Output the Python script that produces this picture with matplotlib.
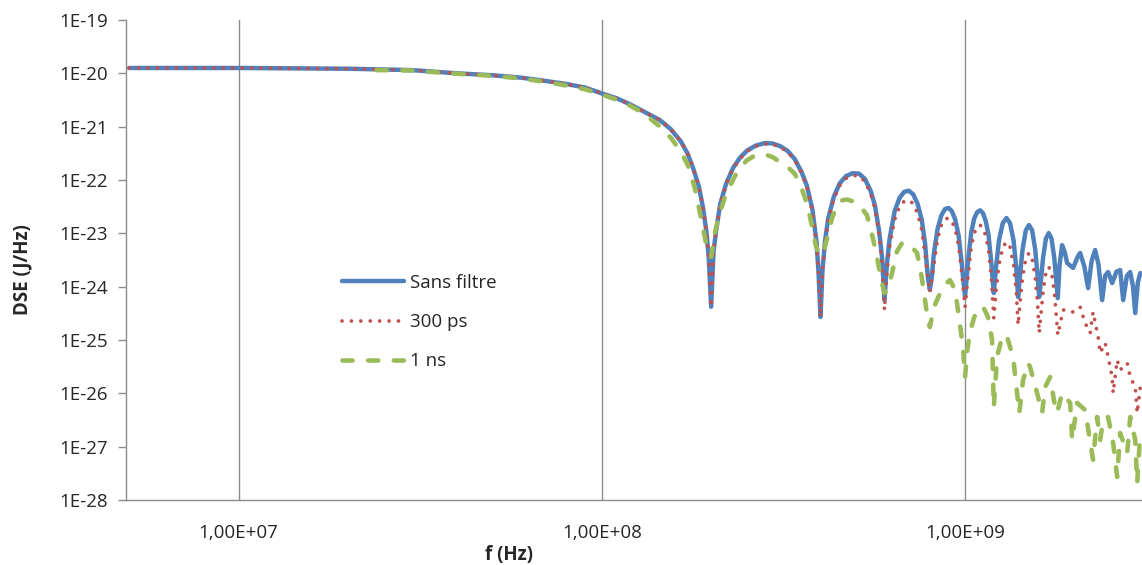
"""
DSE (densite spectrale d'energie) d'une impulsion, sans filtre et filtree.
"""
import numpy as np
import matplotlib
matplotlib.use("Agg")
import matplotlib.pyplot as plt
from matplotlib.ticker import FixedLocator, FixedFormatter, NullLocator

# (frequence en MHz, DSE en J/Hz)
sans_filtre = [
    (5, 1.26e-20), (10, 1.26e-20), (20, 1.22e-20), (30, 1.15e-20), (40, 1.0e-20),
    (50, 9.2e-21), (60, 8.3e-21), (70, 7.2e-21), (80, 6.3e-21), (90, 5.4e-21),
    (100, 4.2e-21), (110, 3.4e-21), (120, 2.6e-21), (130, 1.95e-21), (144.5, 1.33e-21),
    (155, 8.9e-22), (165, 5.3e-22), (172, 3.2e-22), (178, 1.75e-22), (185, 7.6e-23),
    (190, 3.0e-23), (194, 1.1e-23), (197, 3.5e-24), (200, 4.2e-25), (203, 4.5e-24),
    (207, 1.3e-23), (212, 3.6e-23), (220, 8.6e-23), (230, 1.7e-22), (240, 2.6e-22),
    (251, 3.55e-22), (265, 4.4e-22), (280, 4.9e-22), (295, 4.85e-22), (310, 4.3e-22),
    (325, 3.5e-22), (340, 2.45e-22), (355, 1.4e-22), (367, 7.8e-23), (380, 2.8e-23),
    (390, 7.0e-24), (395, 1.9e-24), (400, 2.7e-25), (405, 2.0e-24), (411.5, 7.0e-24),
    (420, 1.9e-23), (435, 4.8e-23), (452, 8.7e-23), (470, 1.18e-22), (490, 1.34e-22),
    (510, 1.32e-22), (530, 1.05e-22), (550, 6.2e-23), (565, 3.3e-23), (580, 1.1e-23),
    (591, 3.5e-24), (600, 5.6e-25), (609, 2.5e-24), (620, 8.0e-24), (640, 2.6e-23),
    (660, 4.6e-23), (680, 6.0e-23), (700, 6.3e-23), (720, 5.4e-23), (740, 3.6e-23),
    (760, 1.8e-23), (776, 6.5e-24), (790, 1.5e-24), (800, 8.7e-25), (810, 1.5e-24),
    (820, 4.0e-24), (840, 1.2e-23), (860, 2.15e-23), (880, 2.84e-23), (900, 3.0e-23),
    (920, 2.6e-23), (940, 1.8e-23), (960, 9.1e-24), (980, 2.6e-24), (1000, 6.4e-25),
    (1020, 3.2e-24), (1040, 1.04e-23), (1060, 1.9e-23), (1080, 2.5e-23), (1100, 2.7e-23),
    (1120, 2.4e-23), (1140, 1.7e-23), (1160, 9.5e-24), (1180, 3.0e-24), (1200, 7.6e-25),
    (1216, 2.2e-24), (1240, 7.4e-24), (1270, 1.55e-23), (1300, 1.94e-23), (1330, 1.55e-23),
    (1360, 7.4e-24), (1384, 2.2e-24), (1400, 6.4e-25), (1416, 1.6e-24), (1440, 5.0e-24),
    (1470, 1.14e-23), (1500, 1.43e-23), (1530, 1.14e-23), (1560, 5.0e-24), (1584, 1.6e-24),
    (1600, 6.4e-25), (1616, 1.2e-24), (1640, 3.5e-24), (1670, 8.0e-24), (1700, 1.01e-23),
    (1730, 8.0e-24), (1760, 3.5e-24), (1784, 1.2e-24), (1800, 6.1e-25), (1820, 2.5e-24),
    (1850, 6.0e-24), (1880, 4.5e-24), (1910, 2.78e-24), (1984, 2.24e-24), (2040, 3.6e-24),
    (2074, 4.28e-24), (2130, 2.4e-24), (2182, 9.4e-25), (2230, 3.0e-24), (2281, 4.87e-24),
    (2330, 2.6e-24), (2385, 5.6e-25), (2430, 1.6e-24), (2477, 1.88e-24), (2541, 1.17e-24),
    (2610, 1.9e-24), (2673, 2.05e-24), (2725, 5.6e-25), (2790, 1.6e-24), (2849, 1.88e-24),
    (2900, 1.0e-24), (2941, 3.2e-25), (2990, 1.2e-24), (3036, 1.8e-24),
]

filtre_300ps = [
    (5, 1.26e-20), (10, 1.26e-20), (20, 1.22e-20), (30, 1.15e-20), (40, 1.0e-20),
    (50, 9.2e-21), (60, 8.3e-21), (70, 7.2e-21), (80, 6.3e-21), (90, 5.4e-21),
    (100, 4.2e-21), (110, 3.4e-21), (120, 2.6e-21), (130, 1.95e-21), (144.5, 1.33e-21),
    (155, 8.9e-22), (165, 5.3e-22), (172, 3.2e-22), (178, 1.75e-22), (185, 7.6e-23),
    (190, 3.0e-23), (194, 1.1e-23), (197, 3.5e-24), (200, 4.2e-25), (203, 4.5e-24),
    (207, 1.3e-23), (212, 3.6e-23), (220, 8.4e-23), (230, 1.65e-22), (240, 2.5e-22),
    (251, 3.45e-22), (265, 4.3e-22), (280, 4.75e-22), (295, 4.7e-22), (310, 4.15e-22),
    (325, 3.35e-22), (340, 2.35e-22), (355, 1.33e-22), (367, 7.4e-23), (380, 2.6e-23),
    (390, 6.5e-24), (395, 1.8e-24), (400, 2.7e-25), (405, 1.9e-24), (411.5, 6.5e-24),
    (420, 1.75e-23), (435, 4.4e-23), (452, 7.9e-23), (470, 1.07e-22), (490, 1.22e-22),
    (510, 1.19e-22), (530, 9.4e-23), (550, 5.5e-23), (565, 2.9e-23), (580, 9.5e-24),
    (591, 3.0e-24), (600, 3.65e-25), (609, 1.8e-24), (620, 5.6e-24), (640, 1.8e-23),
    (660, 3.15e-23), (680, 4.0e-23), (700, 4.2e-23), (720, 3.6e-23), (740, 2.35e-23),
    (760, 1.15e-23), (776, 4.0e-24), (800, 7.9e-25), (820, 2.4e-24), (840, 7.7e-24),
    (860, 1.4e-23), (880, 1.84e-23), (900, 1.94e-23), (920, 1.68e-23), (940, 1.17e-23),
    (960, 5.9e-24), (980, 1.7e-24), (1000, 4.16e-25), (1020, 1.6e-24), (1040, 5.5e-24),
    (1060, 1.0e-23), (1080, 1.32e-23), (1100, 1.43e-23), (1120, 1.27e-23), (1140, 9.0e-24),
    (1160, 5.0e-24), (1180, 1.6e-24), (1200, 2.58e-25), (1216, 7.8e-25), (1240, 2.6e-24),
    (1270, 5.5e-24), (1300, 6.9e-24), (1330, 5.5e-24), (1360, 2.6e-24), (1384, 7.8e-25),
    (1400, 1.91e-25), (1416, 4.8e-25), (1440, 1.5e-24), (1470, 3.4e-24), (1500, 4.28e-24),
    (1530, 3.4e-24), (1560, 1.5e-24), (1584, 4.8e-25), (1600, 1.35e-25), (1616, 2.8e-25),
    (1640, 8.1e-25), (1670, 1.85e-24), (1700, 2.34e-24), (1730, 1.85e-24), (1760, 8.1e-25),
    (1784, 2.8e-25), (1800, 1.24e-25), (1862, 3.65e-25), (1910, 3.65e-25), (1984, 3.35e-25),
    (2074, 4.16e-25), (2141, 2.08e-25), (2210, 1.35e-25), (2252, 3.35e-25), (2325, 1.14e-25),
    (2355, 5.7e-26), (2430, 8.8e-26), (2477, 4.8e-26), (2541, 2.02e-26), (2557, 1.01e-26),
    (2623, 4.2e-26), (2673, 2.74e-26), (2795, 3.7e-26), (2849, 2.02e-26), (2941, 1.31e-26),
    (2978, 4.28e-27), (3036, 1.31e-26),
]

filtre_1ns = [
    (24, 1.15e-20), (30, 1.13e-20), (40, 9.8e-21), (50, 9.0e-21), (60, 8.0e-21),
    (70, 6.9e-21), (80, 5.9e-21), (90, 5.0e-21), (100, 4.0e-21), (110, 3.2e-21),
    (120, 2.45e-21), (130, 1.8e-21), (140, 1.2e-21), (148, 8.8e-22), (156, 5.8e-22),
    (165, 3.4e-22), (172.6, 1.9e-22), (180.4, 7.0e-23), (187.4, 2.0e-23), (194, 6.0e-24),
    (200, 3.6e-24), (205, 1.06e-23), (212, 2.6e-23), (220, 5.6e-23), (235, 1.35e-22),
    (250, 2.3e-22), (265, 2.95e-22), (280, 3.05e-22), (295, 2.7e-22), (310, 2.15e-22),
    (325, 1.75e-22), (340, 1.3e-22), (355, 7.0e-23), (367, 3.6e-23), (378, 1.5e-23),
    (388, 6.0e-24), (397, 3.9e-24), (407, 4.2e-24), (417, 8.0e-24), (430, 1.9e-23),
    (445, 3.4e-23), (460, 4.2e-23), (475, 4.3e-23), (495, 3.9e-23), (515, 3.2e-23),
    (537, 2.2e-23), (558, 8.0e-24), (575, 3.0e-24), (590, 1.2e-24), (600, 7.6e-25),
    (615, 9.5e-25), (629.5, 1.8e-24), (649.7, 4.6e-24), (670, 6.5e-24), (700, 6.4e-24),
    (737.5, 4.3e-24), (755, 2.0e-24), (770, 8.0e-25), (786, 3.0e-25), (800, 1.75e-25),
    (820, 4.0e-25), (845, 6.5e-25), (880, 1.1e-24), (909, 1.33e-24), (939, 8.7e-25),
    (960, 3.0e-25), (987, 7.4e-26), (1000, 2.02e-26), (1015, 6.5e-26), (1032, 1.4e-25),
    (1060, 2.7e-25), (1100, 4.2e-25), (1125, 4.0e-25), (1157, 2.7e-25), (1187, 1.0e-25),
    (1200, 5.5e-27), (1225, 4.8e-26), (1264, 1.14e-25), (1300, 1.24e-25), (1356, 4.8e-26),
    (1391, 1.01e-26), (1410, 4.28e-27), (1445, 1.78e-26), (1492, 3.7e-26), (1510, 3.12e-26),
    (1579, 1.01e-26), (1630, 4.28e-27), (1661, 1.31e-26), (1715, 2.02e-26), (1770, 5.5e-27),
    (1792, 4.28e-27), (1850, 1.01e-26), (1947, 6.6e-27), (1972, 1.33e-27), (2035, 6.6e-27),
    (2141, 4.87e-27), (2252, 5.6e-28), (2310, 3.6e-27), (2355, 1.33e-27), (2400, 3.16e-27),
    (2477, 3.6e-27), (2557, 1.17e-27), (2623, 2.7e-28), (2673, 1.8e-27), (2795, 7.6e-28),
    (2849, 3.6e-27), (2941, 1.33e-27), (2978, 2.08e-28), (3036, 1.8e-27),
]

x_ticks = [1e7, 1e8, 1e9]
x_tick_labels = ["1,00E+07", "1,00E+08", "1,00E+09"]
y_ticks = [10.0 ** e for e in range(-28, -18)]
y_tick_labels = ["1E%d" % e for e in range(-28, -18)]

plt.rcParams["font.family"] = ["Open Sans", "DejaVu Sans"]

W, H = 1142, 565
fig = plt.figure(figsize=(W / 100, H / 100), dpi=100)
ax = fig.add_axes([126 / W, 65 / H, 1016 / W, 480 / H])


def split(series):
    arr = np.array(series, dtype=float)
    return arr[:, 0] * 1e6, arr[:, 1]


f, y = split(sans_filtre)
ax.plot(f, y, color="#4F81BD", lw=3.2, solid_capstyle="round",
        solid_joinstyle="round", label="Sans filtre", zorder=3)

f, y = split(filtre_300ps)
ax.plot(f, y, color="#C0504D", lw=2.7, linestyle=(0, (0.01, 2.5)),
        dash_capstyle="round", label="300 ps", zorder=4)

f, y = split(filtre_1ns)
ax.plot(f, y, color="#9BBB59", lw=3.3, linestyle=(0, (2.2, 3.4)),
        dash_capstyle="round", label="1 ns", zorder=5)

ax.set_xscale("log")
ax.set_yscale("log")
ax.set_xlim(4.9e6, 3.07e9)
ax.set_ylim(1e-28, 1e-19)

ax.xaxis.set_major_locator(FixedLocator(x_ticks))
ax.xaxis.set_major_formatter(FixedFormatter(x_tick_labels))
ax.xaxis.set_minor_locator(NullLocator())
ax.yaxis.set_major_locator(FixedLocator(y_ticks))
ax.yaxis.set_major_formatter(FixedFormatter(y_tick_labels))
ax.yaxis.set_minor_locator(NullLocator())

ax.grid(True, axis="x", color="#8C8C8C", lw=1.0)
ax.set_axisbelow(True)

for side in ("top", "right"):
    ax.spines[side].set_visible(False)
for side in ("left", "bottom"):
    ax.spines[side].set_color("#8C8C8C")
    ax.spines[side].set_linewidth(1.0)

ax.tick_params(axis="y", length=6, width=1, color="#8C8C8C", pad=7,
               labelsize=13.5, labelcolor="#262626")
ax.tick_params(axis="x", length=0, pad=17, labelsize=13.5, labelcolor="#262626")

fig.text(22 / W, 1 - 270 / H, "DSE (J/Hz)", rotation=90, ha="center", va="center",
         fontsize=13.5, fontweight="bold", color="#262626")
fig.text(509 / W, 1 - 555 / H, "f (Hz)", ha="center", va="center",
         fontsize=13.5, fontweight="bold", color="#262626")

leg = ax.legend(loc="upper left", bbox_to_anchor=(342 / W, 1 - 274 / H),
                bbox_transform=fig.transFigure, frameon=False, fontsize=13.5,
                handlelength=3.3, handletextpad=0.3, labelspacing=1.13,
                borderpad=0, borderaxespad=0)
for t in leg.get_texts():
    t.set_color("#262626")

fig.savefig("out.png", dpi=100)
